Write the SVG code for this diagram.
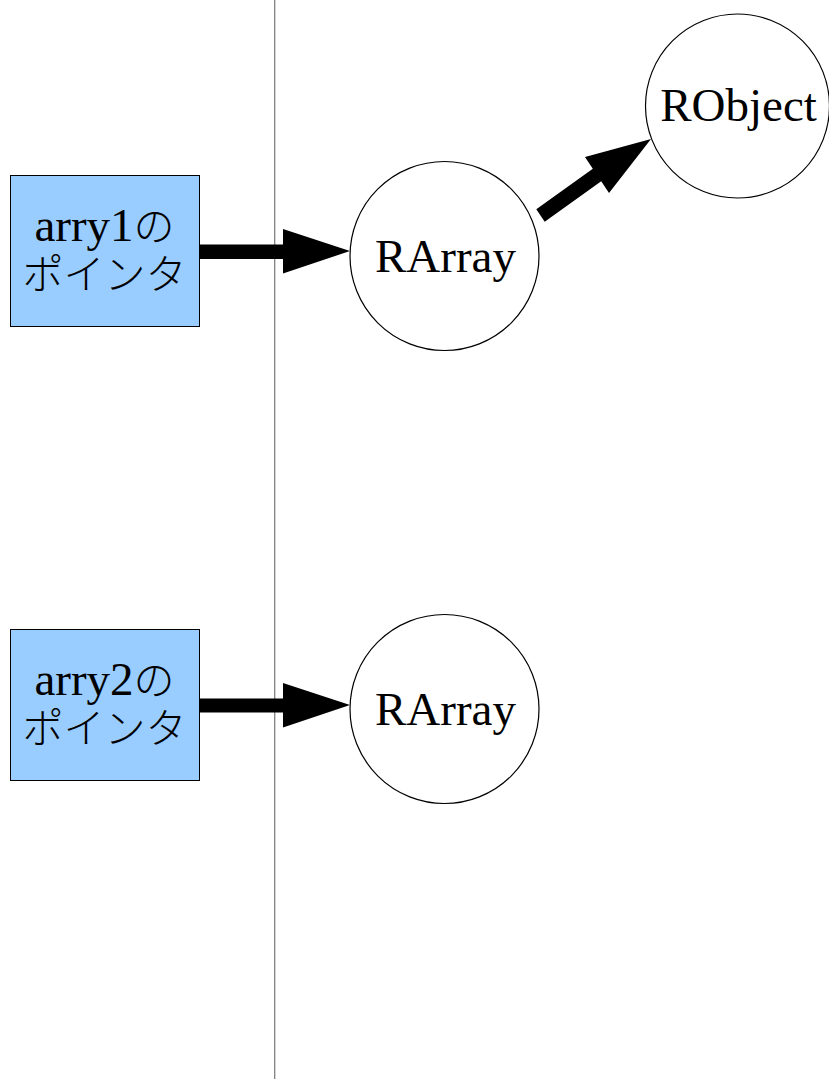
<svg xmlns="http://www.w3.org/2000/svg" width="829" height="1079" viewBox="0 0 829 1079">
  <style>
    .ptr { fill: #99ccff; stroke: #000; stroke-width: 1; }
    .obj { fill: #fff; stroke: #000; stroke-width: 1.2; }
    .lbl { font-family: "Liberation Serif", "Noto Sans CJK JP", serif; font-size: 47px; fill: #000; text-anchor: middle; }
    .jp { font-family: "Noto Sans CJK JP", sans-serif; font-size: 41px; font-weight: 300; }
    .arrow { fill: #000; stroke: none; }
  </style>
  <rect width="829" height="1079" fill="#fff"/>

  <!-- divider between pointer area and heap -->
  <line x1="274.7" y1="0" x2="274.7" y2="1079" stroke="#808080" stroke-width="1.3"/>

  <g id="connectors">
    <polygon class="arrow" points="199,244.5 283,244.5 283,229 350,251 283,273.5 283,259 199,259"/>
    <polygon class="arrow" points="199,698.5 283,698.5 283,683 350,705 283,727.5 283,712.5 199,712.5"/>
    <polygon class="arrow" points="536.3,209.3 592.8,168.8 585,157 651,139 609,193 601.2,181.2 544.7,221.7"/>
  </g>

  <g id="arry1">
    <rect class="ptr" x="10.5" y="175.5" width="189" height="151"/>
    <text class="lbl" x="104.5" y="241">arry1<tspan class="jp">の</tspan><tspan class="jp" x="104.5" y="289">ポインタ</tspan></text>
  </g>

  <g id="arry2">
    <rect class="ptr" x="10.5" y="629.5" width="189" height="151"/>
    <text class="lbl" x="104.5" y="695">arry2<tspan class="jp">の</tspan><tspan class="jp" x="104.5" y="743">ポインタ</tspan></text>
  </g>

  <g id="rarray1">
    <circle class="obj" cx="444.5" cy="256" r="94.5"/>
    <text class="lbl" x="445.5" y="272">RArray</text>
  </g>

  <g id="rarray2">
    <circle class="obj" cx="444.5" cy="709" r="94.5"/>
    <text class="lbl" x="445.5" y="725">RArray</text>
  </g>

  <g id="robject">
    <circle class="obj" cx="737.5" cy="106" r="92"/>
    <text class="lbl" x="738.5" y="121">RObject</text>
  </g>
</svg>
